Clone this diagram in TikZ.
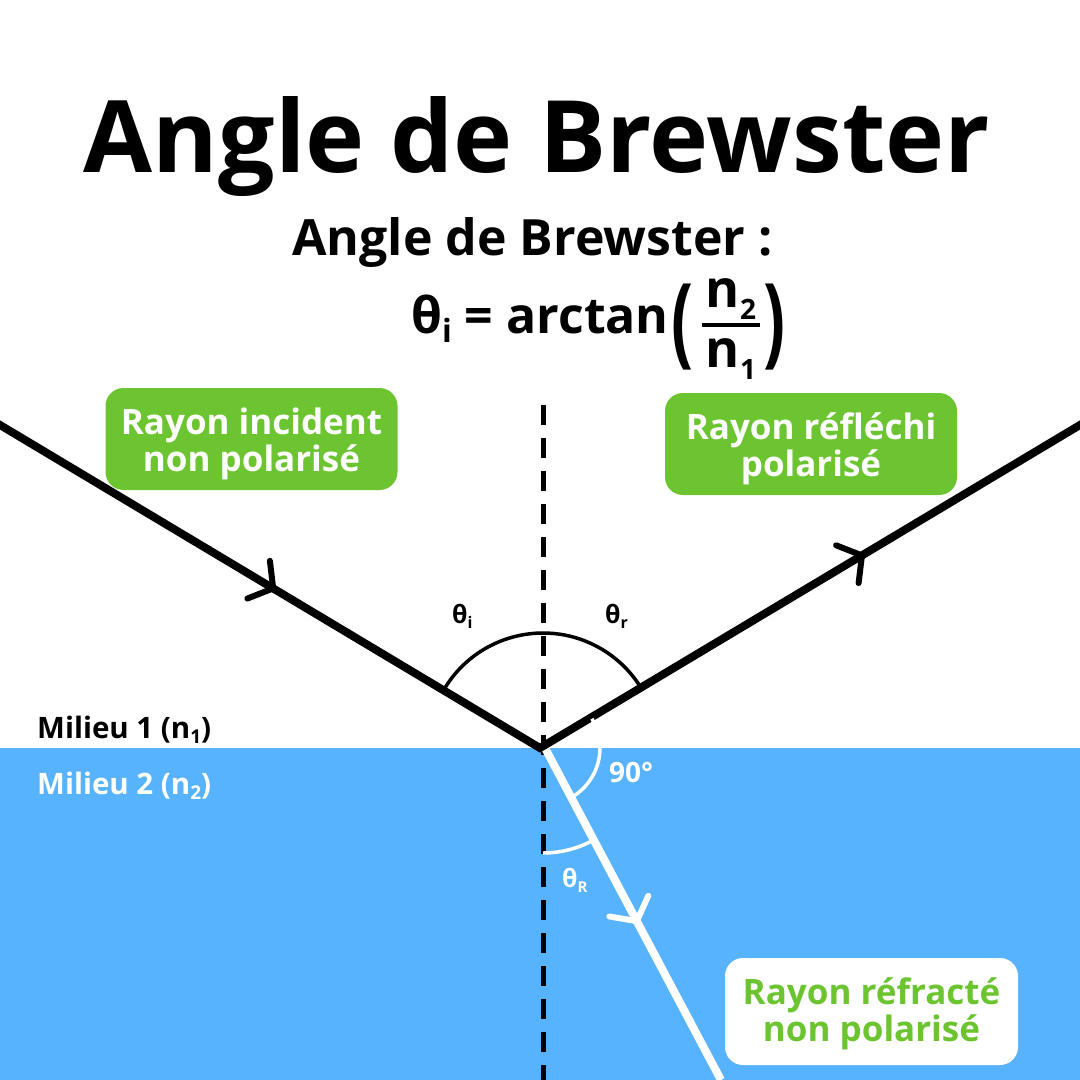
\documentclass[tikz,border=0pt]{standalone}
\usepackage{fontspec}
\setmainfont{Open Sans}
\usetikzlibrary{decorations.markings}
\definecolor{eau}{HTML}{57B3FE}
\definecolor{vert}{HTML}{6CC530}
\newcommand\fs[1]{\fontsize{#1}{#1}\selectfont}
\newcommand\lsub[3]{\raisebox{-#2pt}{\fs{#1}#3}}
\begin{document}
\begin{tikzpicture}[x=1pt,y=-1pt,
  txt/.style={inner sep=0pt, font=\bfseries},
  ray/.style={line width=8pt},
  chev/.style 2 args={postaction={decorate, decoration={markings,
     mark=at position #1 with {\draw[line width=6pt, line cap=round, line join=round, #2] (-17pt,22pt) -- (0pt,0pt) -- (-17pt,-22pt);}}}},
  box/.style={rounded corners=18pt, minimum width=292pt, minimum height=102pt, inner sep=0pt},
  boxtext/.style={align=center, inner sep=0pt, font=\fontsize{35}{37}\selectfont\bfseries},
  angarc/.style={line width=3.5pt}]
\useasboundingbox (0,0) rectangle (1080,1080);
\fill[white] (0,0) rectangle (1080,1080);
\fill[eau] (0,748) rectangle (1080,1080);

% title
\node[txt, anchor=base, font=\fs{100}\bfseries] (title) at (537,172) {Angle de Brewster};
\node[txt, anchor=base west, font=\fs{50}\bfseries] (sub) at (292,255) {Angle de Brewster :};

% formula
\node[txt, anchor=base west, font=\fs{50}\bfseries] (f1) at (411,333) {θ\lsub{32}{9}{i} = arctan};
\node[txt, font=\fs{52}\bfseries] (lp) at (683,327) {\scalebox{1.25}[1.9]{(}};
\node[txt, anchor=base, font=\fs{52}\bfseries] (num) at (731,307) {n\lsub{28}{12}{2}};
\node[txt, anchor=base, font=\fs{52}\bfseries] (den) at (731,367) {n\lsub{28}{12}{1}};
\draw[line width=4pt] (702,325) coordinate (b1) -- (760,325) coordinate (b2);
\node[txt, font=\fs{52}\bfseries] (rp) at (775,327) {\scalebox{1.25}[1.9]{)}};

% geometry
\coordinate (O) at (540,748);
\coordinate (C) at (543,748);
\coordinate (I) at (-10,419);
\coordinate (R) at (1090,419);
\coordinate (S) at (545,748);
\coordinate (T) at (721,1080);
\coordinate (N1) at (543,405);
\coordinate (N2) at (543,1085);

\draw[line width=5pt, dash pattern=on 20pt off 13pt] (N1) -- (N2);

\draw[ray, white, chev={196pt}{white}] (S) -- (T);
\draw[ray, line join=miter, chev={330pt}{black}, chev={1016pt}{black}] (I) -- (O) -- (R);

% angle arcs
\draw[angarc] (C) ++(210.9:115) arc[start angle=210.9, end angle=329.1, radius=115];
\draw[angarc, white] (C) ++(-30.9:57) arc[start angle=-30.9, end angle=61.9, radius=57];
\draw[angarc, white] (C) ++(61.9:105) arc[start angle=61.9, end angle=90, radius=105];

% angle labels
\node[txt, anchor=base west, font=\fs{25}\bfseries] (ti) at (452,623) {θ\lsub{16}{5}{i}};
\node[txt, anchor=base west, font=\fs{25}\bfseries] (tr) at (605,623) {θ\lsub{16}{5}{r}};
\node[txt, anchor=base west, font=\fs{28}\bfseries, white] (t90) at (609,782) {90°};
\node[txt, anchor=base west, font=\fs{25}\bfseries, white] (tR) at (562,887) {θ\lsub{15}{5}{R}};

% media
\node[txt, anchor=base west, font=\fs{29.5}\bfseries] (m1) at (37,738) {Milieu 1 (n\lsub{19}{5}{1})};
\node[txt, anchor=base west, font=\fs{29.5}\bfseries, white] (m2) at (37,794) {Milieu 2 (n\lsub{19}{5}{2})};

% boxes
\node[box, fill=vert] (bi) at (251.5,439) {};
\node[boxtext, text=white] (bi-t) at (251.5,444) {Rayon incident\\non polarisé};
\node[box, fill=vert] (br) at (811,444) {};
\node[boxtext, text=white] (br-t) at (811,449) {Rayon réfléchi\\polarisé};
\node[box, fill=white, minimum width=293pt, minimum height=107pt] (bt) at (871.5,1011.5) {};
\node[boxtext, text=vert] (bt-t) at (871.5,1013.5) {Rayon réfracté\\non polarisé};
\end{tikzpicture}
\end{document}
